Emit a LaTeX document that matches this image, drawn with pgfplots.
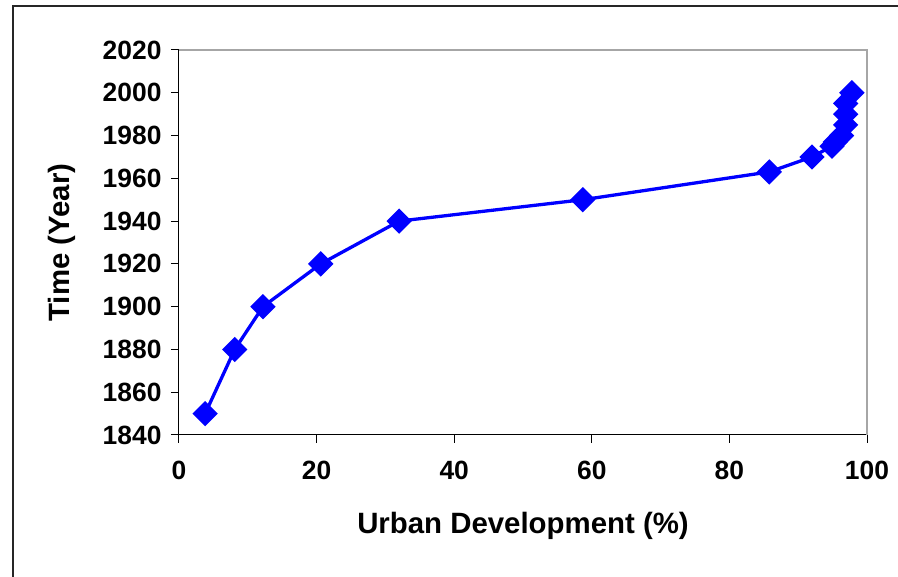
\documentclass[border=0pt]{standalone}
\usepackage{pgfplots}
\pgfplotsset{compat=1.18}
\usepackage{fontspec}
\setmainfont{Liberation Sans}
\begin{document}
\begin{tikzpicture}[x=1bp,y=1bp]
\useasboundingbox (-179,-142) rectangle (719,435);
\draw[line width=1.5bp, black!85] (-166,-145) -- (-166,429) -- (725,429);
\begin{axis}[
  at={(0,0)}, anchor=south west,
  scale only axis, width=688bp, height=385bp,
  xmin=0, xmax=100, ymin=1840, ymax=2020,
  xtick={0,20,...,100}, ytick={1840,1860,...,2020},
  axis x line*=bottom, axis y line*=left,
  axis line style={black, line width=1bp, -},
  tick style={black, line width=1bp},
  tick align=outside, major tick length=8bp,
  /pgf/number format/assume math mode=true,
  /pgf/number format/set thousands separator={},
  tick label style={font=\fontsize{26.5}{30}\selectfont\bfseries},
  xticklabel style={yshift=-15bp},
  yticklabel style={xshift=-6bp},
  label style={font=\fontsize{29.5}{34}\selectfont\bfseries},
  xlabel={Urban Development (\%)},
  ylabel={Time (Year)},
  xlabel style={at={(axis description cs:0.5,-0.2370)}, anchor=center},
  ylabel style={at={(axis description cs:-0.170,0.5)}, anchor=center},
  clip=false,
]
\draw[gray!70, line width=1.5bp] (rel axis cs:0,1) -- (rel axis cs:1,1) -- (rel axis cs:1,0);
\addplot[color={rgb,255:red,0;green,0;blue,255}, line width=3.3bp, mark=square*,
  mark size=7.3bp, mark options={rotate=45, solid}] coordinates {
(3.8,1850) (8.1,1880) (12.2,1900) (20.6,1920) (32.0,1940) (58.7,1950)
(85.8,1963) (92.0,1970) (94.9,1975) (95.4,1977) (96.3,1980) (96.9,1985)
(96.9,1990) (96.9,1995) (97.8,2000)
};
\end{axis}
\end{tikzpicture}
\end{document}
